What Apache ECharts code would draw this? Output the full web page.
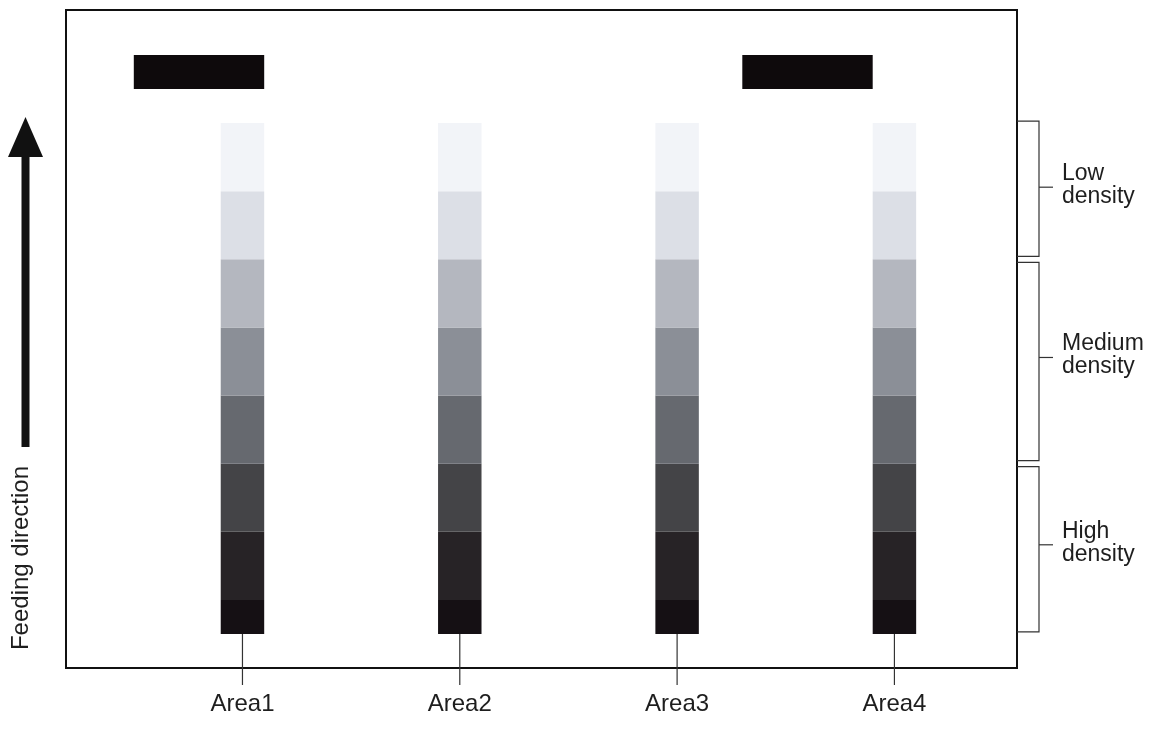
<!DOCTYPE html>
<html>
<head>
<meta charset="utf-8">
<script src="https://cdn.jsdelivr.net/npm/echarts@6/dist/echarts.min.js"></script>
<style>
html,body{margin:0;padding:0;background:#fff;}
#chart{width:1154px;height:744px;}
</style>
</head>
<body>
<div id="chart"></div>
<script>
// ---- data ----
const areas = ['Area1', 'Area2', 'Area3', 'Area4'];
const areaX = [1, 2, 3, 4];
// patch boundaries along feeding direction (bottom = darkest step)
const stepEdges = [0, 0.5, 1.5, 2.5, 3.5, 4.5, 5.5, 6.5, 7.5];
const groups = ['High\ndensity', 'Medium\ndensity', 'Low\ndensity'];
const groupSpans = [[0, 2.5], [2.5, 5.5], [5.5, 7.5]];
const refMarkSpans = [[0.5, 1.1], [3.3, 3.9]];
const refMarkRange = [8, 8.5];

// ---- styles ----
const stepShade = ['#151014', '#272326', '#444447', '#66696f', '#8b8f97', '#b4b7bf', '#dcdfe6', '#f2f4f8'];
const FONT = '"Liberation Sans", Arial, sans-serif';
const XMIN = 0.188, XMAX = 4.564, YMIN = -0.5, YMAX = 9.16;

const chart = echarts.init(document.getElementById('chart'));

const stripData = [];
areaX.forEach((x) => {
  for (let j = 0; j < stepEdges.length - 1; j++) {
    stripData.push([x, stepEdges[j], stepEdges[j + 1], j]);
  }
});

chart.setOption({
  animation: false,
  backgroundColor: '#fff',
  grid: {
    left: 66, right: 137, top: 10, bottom: 76,
    show: true, borderColor: '#111', borderWidth: 2, backgroundColor: 'transparent'
  },
  xAxis: { type: 'value', min: XMIN, max: XMAX, show: false },
  yAxis: { type: 'value', min: YMIN, max: YMAX, show: false },
  graphic: [
    { type: 'rect', shape: { x: 21.5, y: 150, width: 8, height: 297 }, style: { fill: '#111' } },
    { type: 'polygon', shape: { points: [[25.5, 117], [8, 157], [43, 157]] }, style: { fill: '#111' } },
    {
      type: 'text', x: 21, y: 558, rotation: Math.PI / 2,
      style: { text: 'Feeding direction', fill: '#1e1e1e', font: '24px ' + FONT, align: 'center', verticalAlign: 'middle' }
    }
  ],
  series: [
    {
      type: 'custom',
      data: stripData,
      renderItem: function (params, api) {
        const x = api.value(0), y0 = api.value(1), y1 = api.value(2), j = api.value(3);
        const tl = api.coord([x - 0.1, y1]);
        const br = api.coord([x + 0.1, y0]);
        return {
          type: 'rect',
          shape: { x: tl[0], y: tl[1], width: br[0] - tl[0], height: br[1] - tl[1] },
          style: { fill: stepShade[j] }
        };
      }
    },
    {
      type: 'custom',
      data: refMarkSpans.map(s => [s[0], s[1], refMarkRange[0], refMarkRange[1]]),
      renderItem: function (params, api) {
        const tl = api.coord([api.value(0), api.value(3)]);
        const br = api.coord([api.value(1), api.value(2)]);
        return {
          type: 'rect',
          shape: { x: tl[0], y: tl[1], width: br[0] - tl[0], height: br[1] - tl[1] },
          style: { fill: '#0e0a0c' }
        };
      }
    },
    {
      type: 'custom',
      clip: false,
      data: areaX.map(x => [x, 0]),
      renderItem: function (params, api) {
        const x = api.value(0);
        const p0 = api.coord([x, api.value(1)]);
        const p1 = api.coord([x, -0.75]);
        const pt = api.coord([x, -1.04]);
        return {
          type: 'group',
          children: [
            { type: 'line', shape: { x1: p0[0], y1: p0[1], x2: p1[0], y2: p1[1] }, style: { stroke: '#333', lineWidth: 1.2 } },
            { type: 'text', style: { text: areas[params.dataIndex], x: pt[0], y: pt[1], fill: '#1e1e1e', font: '24px ' + FONT, align: 'center', verticalAlign: 'middle' } }
          ]
        };
      }
    },
    {
      type: 'custom',
      clip: false,
      data: groupSpans.map(s => [XMAX, s[0], s[1]]),
      renderItem: function (params, api) {
        const lo = api.value(1), hi = api.value(2);
        const right = params.coordSys.x + params.coordSys.width;
        const yTop = api.coord([XMAX, hi])[1] + (hi >= 7.5 ? -2 : 3);
        const yBot = api.coord([XMAX, lo])[1] + (lo <= 0 ? -2 : -3);
        const bx = right + 22;
        const ym = api.coord([XMAX, (lo + hi) / 2])[1] - 4;
        return {
          type: 'group',
          children: [
            { type: 'polyline', shape: { points: [[right, yTop], [bx, yTop], [bx, yBot], [right, yBot]] }, style: { stroke: '#333', lineWidth: 1.2, fill: null } },
            { type: 'line', shape: { x1: bx, y1: ym, x2: bx + 14, y2: ym }, style: { stroke: '#333', lineWidth: 1.2 } },
            { type: 'text', style: { text: groups[params.dataIndex], x: bx + 23, y: ym - 2, fill: '#1e1e1e', font: '23px ' + FONT, lineHeight: 23, align: 'left', verticalAlign: 'middle' } }
          ]
        };
      }
    }
  ]
});
</script>
</body>
</html>
